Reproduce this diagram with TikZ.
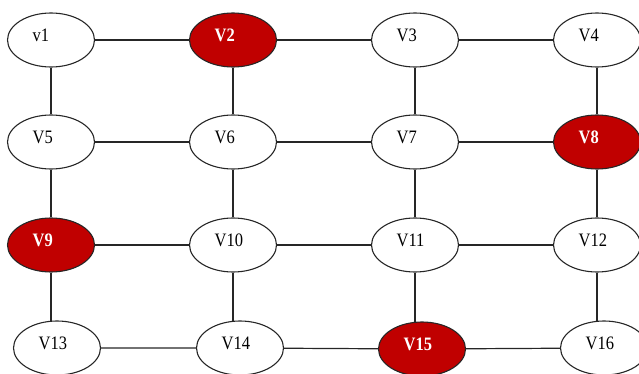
\documentclass[tikz,border=0pt]{standalone}
\usepackage{fontspec}
\setmainfont{Liberation Serif}
\usetikzlibrary{backgrounds,shapes.geometric}
\definecolor{hit}{HTML}{C00000}
% vertex captions are set slightly taller than the font's natural shape
\newcommand\vlab[1]{\scalebox{1}[1.15]{#1}}
\tikzset{
  vtx/.style={ellipse, draw=black!85, line width=1.1pt, fill=white,
    minimum width=87pt, minimum height=54pt, inner sep=0pt,
    label={[lbl, anchor=base west, label distance=0pt, xshift=25.5pt, yshift=-1.7pt]west:\vlab{#1}}},
  hot/.style={ellipse, draw=black!85, line width=1.1pt, fill=hit,
    minimum width=87pt, minimum height=54pt, inner sep=0pt,
    label={[lbl, text=white, font=\fontsize{16.5}{16.5}\selectfont\bfseries, anchor=base west, label distance=0pt, xshift=25.5pt, yshift=-1.7pt]west:\vlab{#1}}},
  lbl/.style={inner sep=0pt, font=\fontsize{16.5}{16.5}\selectfont},
  link/.style={draw=black!85, line width=1.2pt}
}
\begin{document}
\begin{tikzpicture}[x=1pt, y=-1pt]
\useasboundingbox (0,0) rectangle (639,374);
% grid of vertices
\node[vtx=v1]  (v1)  at (51,40)  {};
\node[hot=V2]  (v2)  at (233,40) {};
\node[vtx=V3]  (v3)  at (415,40) {};
\node[vtx=V4]  (v4)  at (597,40) {};
\node[vtx=V5]  (v5)  at (51,142) {};
\node[vtx=V6]  (v6)  at (233,142) {};
\node[vtx=V7]  (v7)  at (415,142) {};
\node[hot=V8]  (v8)  at (597,142) {};
\node[hot=V9]  (v9)  at (51,245) {};
\node[vtx=V10] (v10) at (233,245) {};
\node[vtx=V11] (v11) at (415,245) {};
\node[vtx=V12] (v12) at (597,245) {};
\node[vtx=V13] (v13) at (57,348) {};
\node[vtx=V14] (v14) at (240,348) {};
\node[hot=V15] (v15) at (422,349) {};
\node[vtx=V16] (v16) at (604,348) {};
% edges, drawn underneath the vertices
\begin{scope}[on background layer]
  \draw[link] (v1) -- (v2) -- (v3) -- (v4);
  \draw[link] (v5) -- (v6) -- (v7) -- (v8);
  \draw[link] (v9) -- (v10) -- (v11) -- (v12);
  \draw[link] (v13) -- (v14) -- (v15) -- (v16);
  \draw[link] (v1) -- (v5) -- (v9) -- (v9 |- v13);
  \draw[link] (v2) -- (v6) -- (v10) -- (v10 |- v14);
  \draw[link] (v3) -- (v7) -- (v11) -- (v11 |- v15);
  \draw[link] (v4) -- (v8) -- (v12) -- (v12 |- v16);
\end{scope}
\end{tikzpicture}
\end{document}
